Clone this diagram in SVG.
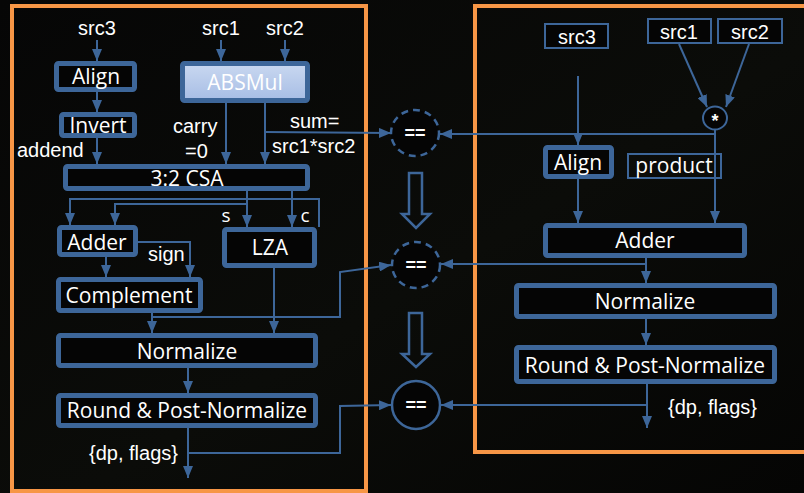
<svg xmlns="http://www.w3.org/2000/svg" width="804" height="493" viewBox="0 0 804 493">
  <defs>
    <marker id="arrow" markerUnits="userSpaceOnUse" markerWidth="12" markerHeight="10" refX="12" refY="5" orient="auto">
      <path d="M0,0 L12,5 L0,10 Z" fill="#3D6699"/>
    </marker>
    <linearGradient id="mulFill" x1="0" y1="0" x2="0" y2="1">
      <stop offset="0" stop-color="#C9D8F0"/>
      <stop offset="1" stop-color="#A7BDE5"/>
    </linearGradient>
    <linearGradient id="bg" x1="0" y1="0" x2="1" y2="1">
      <stop offset="0" stop-color="#060606"/>
      <stop offset="0.55" stop-color="#0B0C09"/>
      <stop offset="1" stop-color="#050504"/>
    </linearGradient>
    <style>
      .panel { fill: none; stroke: #F79646; stroke-width: 4; }
      .box { fill: #050505; stroke: #3D6699; stroke-width: 5; }
      .thin { fill: #050505; stroke: #3D6699; stroke-width: 2; }
      .wire { fill: none; stroke: #3D6699; stroke-width: 2; }
      .arr { marker-end: url(#arrow); }
      .hollow { fill: none; stroke: #3D6699; stroke-width: 2.5; stroke-linejoin: miter; }
      .cmp { fill: #050505; stroke: #3D6699; stroke-width: 2.5; }
      .dash { stroke-dasharray: 7 5; }
      .lbl { font-family: "Open Sans", "Liberation Sans", sans-serif; font-size: 21px; fill: #FFFFFF; text-anchor: middle; }
      .tag { font-family: "Open Sans", "Liberation Sans", sans-serif; font-size: 19px; fill: #FFFFFF; text-anchor: middle; }
      .sig { font-family: "Liberation Sans", Arial, sans-serif; font-size: 20px; fill: #FFFFFF; }
      .mid { text-anchor: middle; }
      .eq { font-family: "Liberation Sans", Arial, sans-serif; font-size: 18px; font-weight: bold; fill: #FFFFFF; text-anchor: middle; }
    </style>
  </defs>

  <rect width="804" height="493" fill="url(#bg)"/>

  <!-- two implementation panels -->
  <rect class="panel" x="12" y="6" width="354" height="485"/>
  <rect class="panel" x="475" y="6" width="340" height="446"/>

  <!-- connectors -->
  <g id="connectors">
    <!-- left datapath -->
    <path class="wire arr" d="M97,40 V61"/>
    <path class="wire arr" d="M97,92 V112"/>
    <path class="wire arr" d="M97,138 V164"/>
    <path class="wire arr" d="M221,40 V61"/>
    <path class="wire arr" d="M285,40 V61"/>
    <path class="wire arr" d="M226,103 V164"/>
    <path class="wire arr" d="M265,103 V164"/>
    <path class="wire arr" d="M265,132 L391,133"/>
    <path class="wire arr" d="M247,191 V227"/>
    <path class="wire arr" d="M292,191 V227"/>
    <path class="wire arr" d="M247,204 H115 V225"/>
    <path class="wire arr" d="M319,227 V199 H70 V225"/>
    <path class="wire arr" d="M106,257 V277"/>
    <path class="wire arr" d="M138,242 H190 V277"/>
    <path class="wire arr" d="M152,313 V333"/>
    <path class="wire arr" d="M152,317 H340 V272 L391,265"/>
    <path class="wire arr" d="M274,268 V333"/>
    <path class="wire arr" d="M188,368 V393"/>
    <path class="wire arr" d="M188,428 V478"/>
    <path class="wire arr" d="M188,453 H340 V406 L391,405"/>

    <!-- right reference model -->
    <path class="wire arr" d="M679,44 L707,107"/>
    <path class="wire arr" d="M749,44 L726,107"/>
    <path class="wire arr" d="M578,76 V145"/>
    <path class="wire arr" d="M715,130 V223"/>
    <path class="wire arr" d="M715,134 H440"/>
    <path class="wire arr" d="M578,179 V223"/>
    <path class="wire arr" d="M646,258 V283"/>
    <path class="wire arr" d="M646,264 H441"/>
    <path class="wire arr" d="M646,319 V345"/>
    <path class="wire arr" d="M647,384 V428"/>
    <path class="wire arr" d="M647,405 H441"/>

    <!-- refinement steps between comparison points -->
    <path class="hollow" d="M409,173 H422 V214 H430 L416,228 L402,214 H409 Z"/>
    <path class="hollow" d="M409,313 H422 V354 H430 L416,367 L402,354 H409 Z"/>
  </g>

  <!-- comparison points -->
  <g id="cmp-sum">
    <ellipse class="cmp dash" cx="415" cy="133" rx="24" ry="23"/>
    <text class="eq" x="415" y="139">==</text>
  </g>
  <g id="cmp-adder">
    <ellipse class="cmp dash" cx="416" cy="265" rx="24" ry="23"/>
    <text class="eq" x="416" y="271">==</text>
  </g>
  <g id="cmp-result">
    <ellipse class="cmp" cx="416" cy="405" rx="24" ry="24"/>
    <text class="eq" x="416" y="411">==</text>
  </g>

  <!-- left: FMA implementation -->
  <g id="l-src3"><text class="sig mid" x="97" y="35">src3</text></g>
  <g id="l-src1"><text class="sig mid" x="221" y="35">src1</text></g>
  <g id="l-src2"><text class="sig mid" x="285" y="35">src2</text></g>
  <g id="l-align">
    <rect class="box" x="56.5" y="63.5" width="78" height="26" rx="2"/>
    <text class="lbl" x="96" y="84">Align</text>
  </g>
  <g id="l-invert">
    <rect class="box" x="61.5" y="114.5" width="73" height="21" rx="2"/>
    <text class="lbl" x="98" y="133">Invert</text>
  </g>
  <g id="l-absmul">
    <rect x="182.5" y="63.5" width="125" height="37" rx="2" fill="url(#mulFill)" stroke="#3D6699" stroke-width="5"/>
    <text class="lbl" x="245" y="90" fill="#FFFFFF">ABSMul</text>
  </g>
  <g id="l-csa">
    <rect class="box" x="65.5" y="166.5" width="242" height="22" rx="2"/>
    <text class="lbl" x="187" y="186">3:2 CSA</text>
  </g>
  <g id="l-adder">
    <rect class="box" x="59.5" y="227.5" width="76" height="27" rx="2"/>
    <text class="lbl" x="97" y="250">Adder</text>
  </g>
  <g id="l-lza">
    <rect class="box" x="224.5" y="229.5" width="90" height="36" rx="2"/>
    <text class="lbl" x="270" y="255">LZA</text>
  </g>
  <g id="l-complement">
    <rect class="box" x="58.5" y="279.5" width="142" height="31" rx="2"/>
    <text class="lbl" x="129" y="303">Complement</text>
  </g>
  <g id="l-normalize">
    <rect class="box" x="58.5" y="335.5" width="257" height="30" rx="2"/>
    <text class="lbl" x="187" y="359">Normalize</text>
  </g>
  <g id="l-round">
    <rect class="box" x="58.5" y="395.5" width="257" height="30" rx="2"/>
    <text class="lbl" x="187" y="418">Round &amp; Post-Normalize</text>
  </g>
  <g id="l-labels">
    <text class="sig" x="17" y="157">addend</text>
    <text class="sig" x="173" y="133">carry</text>
    <text class="sig" x="185" y="158">=0</text>
    <text class="sig" x="290" y="128">sum=</text>
    <text class="sig" x="272" y="153">src1*src2</text>
    <text class="tag" x="226" y="222">s</text>
    <text class="tag" x="305" y="222">c</text>
    <text class="sig" x="148" y="261">sign</text>
    <text class="sig" x="89" y="460">{dp, flags}</text>
  </g>

  <!-- right: reference model -->
  <g id="r-src3">
    <rect class="thin" x="545" y="24" width="63" height="24"/>
    <text class="sig mid" x="577" y="44">src3</text>
  </g>
  <g id="r-src1">
    <rect class="thin" x="648" y="19" width="63" height="24"/>
    <text class="sig mid" x="679" y="39">src1</text>
  </g>
  <g id="r-src2">
    <rect class="thin" x="718" y="19" width="64" height="24"/>
    <text class="sig mid" x="750" y="39">src2</text>
  </g>
  <g id="r-mul">
    <ellipse cx="715" cy="118" rx="12" ry="11.5" fill="#050505" stroke="#3D6699" stroke-width="2"/>
    <text class="eq" x="715" y="127">*</text>
  </g>
  <g id="r-align">
    <rect class="box" x="545.5" y="147.5" width="66" height="29" rx="2"/>
    <text class="lbl" x="578" y="170">Align</text>
  </g>
  <g id="r-product">
    <rect x="628" y="154" width="93" height="24" fill="none" stroke="#3D6699" stroke-width="2"/>
    <text class="lbl" x="674" y="173">product</text>
  </g>
  <g id="r-adder">
    <rect class="box" x="545.5" y="225.5" width="199" height="30" rx="2"/>
    <text class="lbl" x="645" y="248">Adder</text>
  </g>
  <g id="r-normalize">
    <rect class="box" x="516.5" y="285.5" width="258" height="31" rx="2"/>
    <text class="lbl" x="645" y="309">Normalize</text>
  </g>
  <g id="r-round">
    <rect class="box" x="516.5" y="347.5" width="258" height="34" rx="2"/>
    <text class="lbl" x="645" y="373">Round &amp; Post-Normalize</text>
  </g>
  <g id="r-labels">
    <text class="sig" x="668" y="414">{dp, flags}</text>
  </g>
</svg>
